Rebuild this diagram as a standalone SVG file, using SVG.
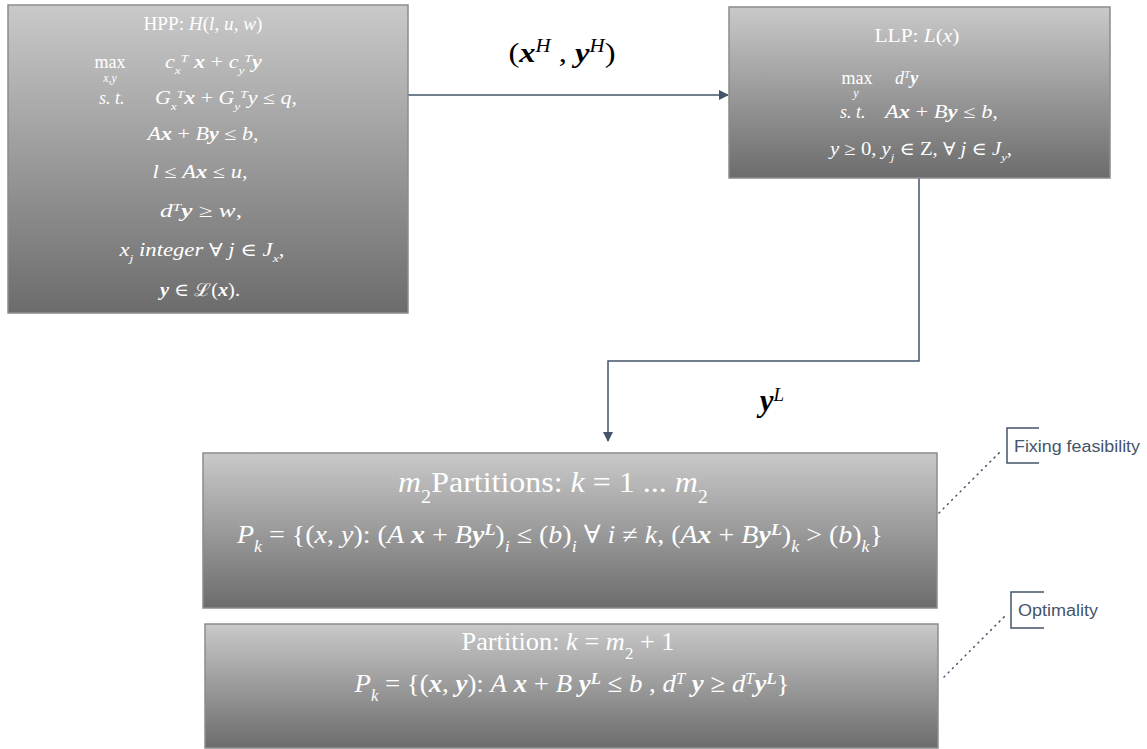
<svg xmlns="http://www.w3.org/2000/svg" width="1147" height="749" viewBox="0 0 1147 749">
<defs>
<linearGradient id="g" x1="0" y1="0" x2="0" y2="1">
<stop offset="0" stop-color="#c9c9c9"/>
<stop offset="1" stop-color="#6c6c6c"/>
</linearGradient>
<marker id="arr" markerWidth="10" markerHeight="10" refX="9" refY="5" orient="auto" markerUnits="userSpaceOnUse">
<path d="M0,0 L10,5 L0,10 Z" fill="#44546a"/>
</marker>
<style>
.box{fill:url(#g);stroke:#8c8c8c;stroke-width:1.5}
.m{font-family:"Liberation Serif","DejaVu Serif",serif;fill:#ffffff;text-anchor:middle}
.s{font-family:"Liberation Serif","DejaVu Serif",serif;fill:#ffffff;text-anchor:start}
.i{font-style:italic}
.b{font-weight:bold;font-style:italic}
.lbl{font-family:"Liberation Serif","DejaVu Serif",serif;fill:#000;text-anchor:middle}
.con{fill:none;stroke:#44546a;stroke-width:1.5}
.dot{fill:none;stroke:#44546a;stroke-width:1.5;stroke-dasharray:1 5;stroke-linecap:round}
.cal{font-family:"Liberation Sans","DejaVu Sans",sans-serif;fill:#44546a;font-size:16px}
.brk{fill:none;stroke:#44546a;stroke-width:1.5}
</style>
</defs>
<rect width="1147" height="749" fill="#ffffff"/>

<g id="connectors">
<line class="con" x1="408" y1="95" x2="728" y2="95" marker-end="url(#arr)"/>
<polyline class="con" points="919,178 919,361 608,361 608,441" marker-end="url(#arr)"/>
<text class="lbl" x="562" y="62" font-size="28" textLength="107" lengthAdjust="spacingAndGlyphs">(<tspan class="b">x</tspan><tspan class="i" font-size="18" baseline-shift="super">H</tspan> , <tspan class="b">y</tspan><tspan class="i" font-size="18" baseline-shift="super">H</tspan>)</text>
<text class="lbl" x="772" y="411" font-size="31"><tspan class="b">y</tspan><tspan class="i" font-size="19" baseline-shift="super">L</tspan></text>
</g>

<g id="hpp">
<rect class="box" x="8" y="5" width="400" height="308"/>
<text class="m" x="203" y="30" font-size="18" textLength="119" lengthAdjust="spacingAndGlyphs">HPP: <tspan class="i">H</tspan>(<tspan class="i">l</tspan>, <tspan class="i">u</tspan>, <tspan class="i">w</tspan>)</text>
<text class="m" x="110" y="68" font-size="18">max</text>
<text class="m i" x="110" y="82" font-size="12">x,y</text>
<text class="s" x="165" y="68" font-size="18" textLength="97" lengthAdjust="spacingAndGlyphs"><tspan class="i">c</tspan><tspan class="i" font-size="11" baseline-shift="sub">x</tspan><tspan class="i" font-size="11" baseline-shift="super">T</tspan> <tspan class="b">x</tspan> + <tspan class="i">c</tspan><tspan class="i" font-size="11" baseline-shift="sub">y</tspan><tspan class="i" font-size="11" baseline-shift="super">T</tspan><tspan class="b">y</tspan></text>
<text class="s i" x="99" y="104" font-size="18">s. t.</text>
<text class="s" x="155" y="104" font-size="18" textLength="142" lengthAdjust="spacingAndGlyphs"><tspan class="i">G</tspan><tspan class="i" font-size="11" baseline-shift="sub">x</tspan><tspan class="i" font-size="11" baseline-shift="super">T</tspan><tspan class="b">x</tspan> + <tspan class="i">G</tspan><tspan class="i" font-size="11" baseline-shift="sub">y</tspan><tspan class="i" font-size="11" baseline-shift="super">T</tspan><tspan class="i">y</tspan> ≤ <tspan class="i">q</tspan>,</text>
<text class="m" x="203" y="140" font-size="18" textLength="111" lengthAdjust="spacingAndGlyphs"><tspan class="i">A</tspan><tspan class="b">x</tspan> + <tspan class="i">B</tspan><tspan class="b">y</tspan> ≤ <tspan class="i">b</tspan>,</text>
<text class="m" x="200" y="178" font-size="18" textLength="95" lengthAdjust="spacingAndGlyphs"><tspan class="i">l</tspan> ≤ <tspan class="i">A</tspan><tspan class="b">x</tspan> ≤ <tspan class="i">u</tspan>,</text>
<text class="m" x="201" y="217" font-size="18" textLength="82" lengthAdjust="spacingAndGlyphs"><tspan class="i">d</tspan><tspan class="i" font-size="11" baseline-shift="super">T</tspan><tspan class="b">y</tspan> ≥ <tspan class="i">w</tspan>,</text>
<text class="m" x="202" y="256" font-size="18" textLength="165" lengthAdjust="spacingAndGlyphs"><tspan class="i">x</tspan><tspan class="i" font-size="11" baseline-shift="sub">j</tspan><tspan class="i"> integer</tspan> ∀ <tspan class="i">j</tspan> ∈ <tspan class="i">J</tspan><tspan class="i" font-size="11" baseline-shift="sub">x</tspan>,</text>
<text class="m" x="200" y="296" font-size="18" textLength="80" lengthAdjust="spacingAndGlyphs"><tspan class="b">y</tspan> ∈ ℒ(<tspan class="b">x</tspan>).</text>
</g>

<g id="llp">
<rect class="box" x="729" y="7" width="381" height="171"/>
<text class="m" x="917" y="42" font-size="18" textLength="85" lengthAdjust="spacingAndGlyphs">LLP: <tspan class="i">L</tspan>(<tspan class="i">x</tspan>)</text>
<text class="m" x="857" y="84" font-size="18">max</text>
<text class="m i" x="856" y="97" font-size="12">y</text>
<text class="s" x="895" y="84" font-size="18"><tspan class="i">d</tspan><tspan class="i" font-size="11" baseline-shift="super">T</tspan><tspan class="b">y</tspan></text>
<text class="s i" x="840" y="118" font-size="18">s. t.</text>
<text class="s" x="885" y="118" font-size="18" textLength="113" lengthAdjust="spacingAndGlyphs"><tspan class="i">A</tspan><tspan class="b">x</tspan> + <tspan class="i">B</tspan><tspan class="b">y</tspan> ≤ <tspan class="i">b</tspan>,</text>
<text class="m" x="921" y="155" font-size="18" textLength="182" lengthAdjust="spacingAndGlyphs"><tspan class="i">y</tspan> ≥ 0, <tspan class="i">y</tspan><tspan class="i" font-size="11" baseline-shift="sub">j</tspan> ∈ Z, ∀ <tspan class="i">j</tspan> ∈ <tspan class="i">J</tspan><tspan class="i" font-size="11" baseline-shift="sub">y</tspan>,</text>
</g>

<g id="partitions">
<rect class="box" x="203" y="453" width="734" height="155"/>
<text class="m" x="553" y="492" font-size="30" textLength="310" lengthAdjust="spacingAndGlyphs"><tspan class="i">m</tspan><tspan font-size="19" baseline-shift="sub">2</tspan>Partitions: <tspan class="i">k</tspan> = 1 ... <tspan class="i">m</tspan><tspan font-size="19" baseline-shift="sub">2</tspan></text>
<text class="m" x="560" y="543" font-size="25" textLength="646" lengthAdjust="spacingAndGlyphs"><tspan class="i">P</tspan><tspan class="i" font-size="16" baseline-shift="sub">k</tspan> = {(<tspan class="i">x</tspan>, <tspan class="i">y</tspan>): (<tspan class="i">A</tspan> <tspan class="b">x</tspan> + <tspan class="i">B</tspan><tspan class="b">y</tspan><tspan class="b" font-size="16" baseline-shift="super">L</tspan>)<tspan class="i" font-size="16" baseline-shift="sub">i</tspan> ≤ (<tspan class="i">b</tspan>)<tspan class="i" font-size="16" baseline-shift="sub">i</tspan> ∀ <tspan class="i">i</tspan> ≠ <tspan class="i">k</tspan>, (<tspan class="i">A</tspan><tspan class="b">x</tspan> + <tspan class="i">B</tspan><tspan class="b">y</tspan><tspan class="b" font-size="16" baseline-shift="super">L</tspan>)<tspan class="i" font-size="16" baseline-shift="sub">k</tspan> &gt; (<tspan class="i">b</tspan>)<tspan class="i" font-size="16" baseline-shift="sub">k</tspan>}</text>
</g>

<g id="partition-last">
<rect class="box" x="205" y="624" width="733" height="124"/>
<text class="m" x="568" y="650" font-size="25" textLength="213" lengthAdjust="spacingAndGlyphs">Partition: <tspan class="i">k</tspan> = <tspan class="i">m</tspan><tspan font-size="16" baseline-shift="sub">2</tspan> + 1</text>
<text class="m" x="572" y="692" font-size="26" textLength="435" lengthAdjust="spacingAndGlyphs"><tspan class="i">P</tspan><tspan class="i" font-size="16" baseline-shift="sub">k</tspan> = {(<tspan class="b">x</tspan>, <tspan class="b">y</tspan>): <tspan class="i">A</tspan> <tspan class="b">x</tspan> + <tspan class="i">B</tspan> <tspan class="b">y</tspan><tspan class="b" font-size="16" baseline-shift="super">L</tspan> ≤ <tspan class="i">b</tspan> , <tspan class="i">d</tspan><tspan class="i" font-size="16" baseline-shift="super">T</tspan> <tspan class="b">y</tspan> ≥ <tspan class="i">d</tspan><tspan class="i" font-size="16" baseline-shift="super">T</tspan><tspan class="b">y</tspan><tspan class="b" font-size="16" baseline-shift="super">L</tspan>}</text>
</g>

<g id="callout-feasibility">
<line class="dot" x1="939" y1="513" x2="1002" y2="450"/>
<polyline class="brk" points="1039,428 1007,428 1007,463 1039,463"/>
<text class="cal" x="1014" y="452" textLength="126" lengthAdjust="spacingAndGlyphs">Fixing feasibility</text>
</g>

<g id="callout-optimality">
<line class="dot" x1="944" y1="677" x2="1007" y2="614"/>
<polyline class="brk" points="1044,592 1011,592 1011,628 1044,628"/>
<text class="cal" x="1018" y="616" textLength="80" lengthAdjust="spacingAndGlyphs">Optimality</text>
</g>
</svg>
